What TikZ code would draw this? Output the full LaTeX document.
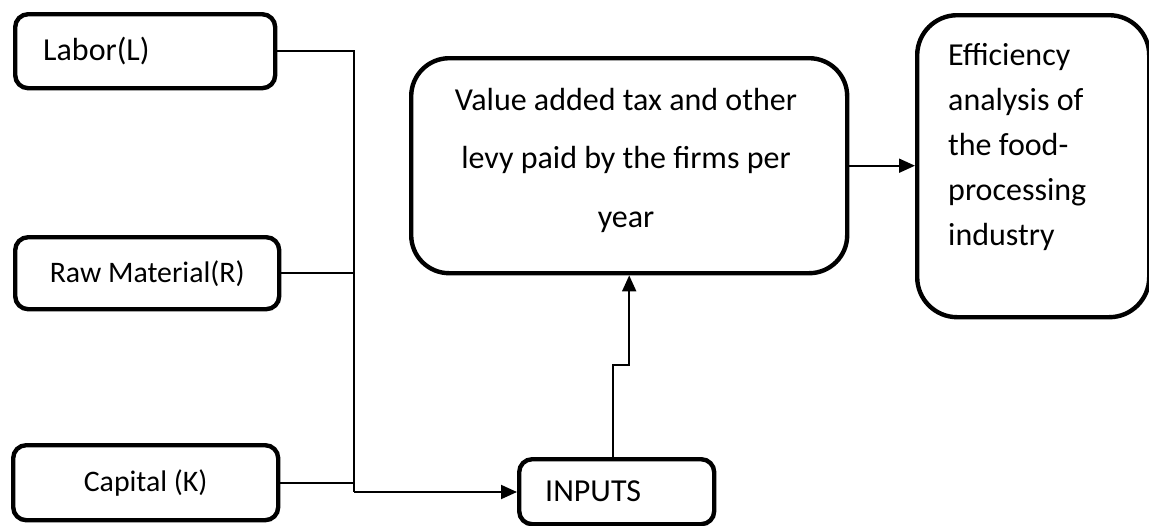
\documentclass[tikz,border=0pt]{standalone}
\usepackage{fontspec}
\setmainfont{Carlito}
\usetikzlibrary{arrows.meta}
\begin{document}
\begin{tikzpicture}[x=1pt,y=-1pt,
  box/.style={draw, line width=4.4pt, rounded corners=#1, inner sep=0pt, anchor=north west},
  box/.default=13pt,
  lbl/.style={font=\fontsize{32}{38}\selectfont},
  lbls/.style={font=\fontsize{29.8}{35}\selectfont},
  conn/.style={line width=1.9pt},
  arr/.style={conn, -{Triangle[length=16pt,width=14pt]}}]
\useasboundingbox (0,0) rectangle (1149,525);

\node[box, minimum width=260pt, minimum height=74pt, text width=204pt, align=left, lbl] (labor) at (13,12) {Labor(L)};
\node[box, minimum width=264pt, minimum height=72pt, lbls] (raw) at (13,235) {Raw Material(R)};
\node[box, minimum width=265pt, minimum height=75pt, lbls] (capital) at (11,443) {Capital (K)};
\node[box, minimum width=195pt, minimum height=65pt, text width=143pt, align=left, lbl] (inputs) at (517,457) {INPUTS};
\node[box=38pt, minimum width=436pt, minimum height=215pt] (value) at (409,56) {};
\node[box=40pt, minimum width=232pt, minimum height=302pt] (eff) at (915,13) {};

\node[lbl, align=center, inner sep=0pt, anchor=north, font=\fontsize{32}{58.5}\selectfont] (valtext) at (626,88)
  {Value added tax and other\\levy paid by the firms per\\year};
\node[lbl, align=left, inner sep=0pt, anchor=north west, font=\fontsize{32}{45}\selectfont] (efftext) at (948,43)
  {Efficiency\\analysis of\\the food-\\processing\\industry};

\coordinate (jx) at (354,492);
\coordinate (s1) at (613,365);

\draw[conn] (labor.east) -| (jx);
\draw[conn] (raw.east) -- (raw.east -| jx);
\draw[conn] (capital.east) -- (capital.east -| jx);
\draw[arr] (jx) -- (inputs.west |- jx);
\draw[arr] (s1 |- inputs.north) -- (s1) -- (s1 -| value.south) -- (value.south);
\draw[arr] (value.east) -- (value.east -| eff.west);
\end{tikzpicture}
\end{document}
